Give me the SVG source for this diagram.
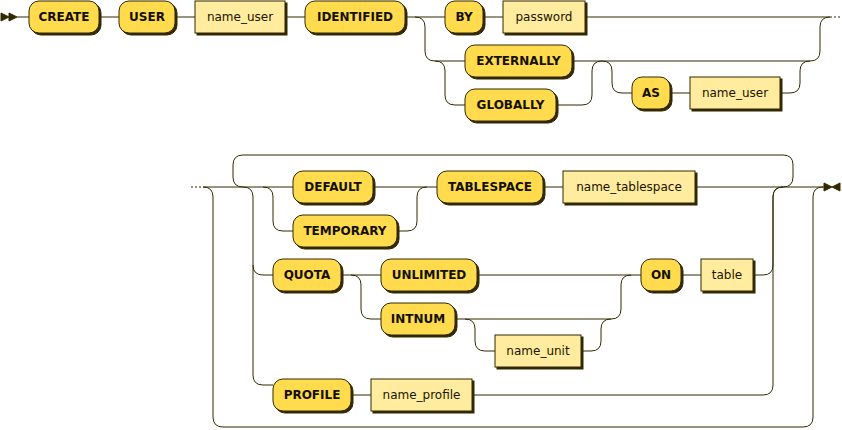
<svg xmlns="http://www.w3.org/2000/svg" width="842" height="430" viewBox="0 0 842 430">
<style>
.line{fill:none;stroke:#332900;stroke-width:1}
.shadow{fill:#332900;stroke:#332900;stroke-width:1}
rect.terminal{fill:#FFDB4D;stroke:#332900;stroke-width:1}
rect.nonterminal{fill:#FFEC9E;stroke:#332900;stroke-width:1}
text{font-family:Verdana,"DejaVu Sans",sans-serif;font-size:12px;text-anchor:middle}
text.terminal{fill:#141000;font-weight:bold}
text.nonterminal{fill:#1A1400;font-weight:normal}
.marker{fill:#332900;stroke:#332900;stroke-width:1}
</style>
<rect width="842" height="430" fill="#FFFFFF"/>
<g id="connectors">
<path class="line" d="M17 17 h12 M99 17 h20 M175 17 h20 M285 17 h20 M405 17 h40 M483 17 h20 M585 17 H830"/>
<path class="line" d="M415 17 q10 0 10 10 v24 q0 10 10 10 h30"/>
<path class="line" d="M435 61 q10 0 10 10 v24 q0 10 10 10 h10"/>
<path class="line" d="M556 105 h26 q10 0 10 -10 v-24 q0 -10 10 -10"/>
<path class="line" d="M572 61 H810 q10 0 10 -10 v-24 q0 -10 10 -10"/>
<path class="line" d="M602 61 q10 0 10 10 v12 q0 10 10 10 h10"/>
<path class="line" d="M670 93 h20"/>
<path class="line" d="M780 93 h10 q10 0 10 -10 v-12 q0 -10 10 -10"/>
<path class="line" d="M830 17 h2 m2 0 h2 m2 0 h2"/>
<path class="line" d="M191 187 h2 m2 0 h2 m2 0 h2"/>
<path class="line" d="M203 187 h90"/>
<path class="line" d="M203 187 q10 0 10 10 v220 q0 10 10 10 H803 q10 0 10 -10 v-220 q0 -10 10 -10"/>
<path class="line" d="M243 187 q-10 0 -10 -10 v-12 q0 -10 10 -10 h540 q10 0 10 10 v12 q0 10 -10 10"/>
<path class="line" d="M263 187 q10 0 10 10 v24 q0 10 10 10 h10"/>
<path class="line" d="M373 187 h64"/>
<path class="line" d="M397 231 h10 q10 0 10 -10 v-24 q0 -10 10 -10"/>
<path class="line" d="M543 187 h20"/>
<path class="line" d="M695 187 H824"/>
<path class="line" d="M243 187 q10 0 10 10 v68 q0 10 10 10 h10"/>
<path class="line" d="M253 265 v110 q0 10 10 10 h10"/>
<path class="line" d="M341 275 h40"/>
<path class="line" d="M351 275 q10 0 10 10 v24 q0 10 10 10 h10"/>
<path class="line" d="M477 275 H641"/>
<path class="line" d="M455 319 H611 q10 0 10 -10 v-24 q0 -10 10 -10"/>
<path class="line" d="M465 319 q10 0 10 10 v12 q0 10 10 10 h10"/>
<path class="line" d="M581 351 h10 q10 0 10 -10 v-12 q0 -10 10 -10"/>
<path class="line" d="M681 275 h20"/>
<path class="line" d="M753 275 h10 q10 0 10 -10 v-68 q0 -10 10 -10"/>
<path class="line" d="M351 395 h20"/>
<path class="line" d="M472 395 H763 q10 0 10 -10 v-188 q0 -10 10 -10"/>
</g>
<g id="start">
<polygon class="marker" points="9 17 1 13 1 21"/>
<polygon class="marker" points="17 17 9 13 9 21"/>
</g>
<g id="end">
<polygon class="marker" points="832 187 824 183 824 191"/>
<polygon class="marker" points="832 187 840 183 840 191"/>
</g>
<g id="n-create"><rect class="shadow" x="31" y="3" width="70" height="32" rx="10"/><rect class="terminal" x="29" y="1" width="70" height="32" rx="10"/><text class="terminal" x="64" y="21">CREATE</text></g>
<g id="n-user"><rect class="shadow" x="121" y="3" width="56" height="32" rx="10"/><rect class="terminal" x="119" y="1" width="56" height="32" rx="10"/><text class="terminal" x="147" y="21">USER</text></g>
<g id="n-name-user"><rect class="shadow" x="197" y="3" width="90" height="32"/><rect class="nonterminal" x="195" y="1" width="90" height="32"/><text class="nonterminal" x="240" y="21">name_user</text></g>
<g id="n-identified"><rect class="shadow" x="307" y="3" width="100" height="32" rx="10"/><rect class="terminal" x="305" y="1" width="100" height="32" rx="10"/><text class="terminal" x="355" y="21">IDENTIFIED</text></g>
<g id="n-by"><rect class="shadow" x="447" y="3" width="38" height="32" rx="10"/><rect class="terminal" x="445" y="1" width="38" height="32" rx="10"/><text class="terminal" x="464" y="21">BY</text></g>
<g id="n-password"><rect class="shadow" x="505" y="3" width="82" height="32"/><rect class="nonterminal" x="503" y="1" width="82" height="32"/><text class="nonterminal" x="544" y="21">password</text></g>
<g id="n-externally"><rect class="shadow" x="467" y="47" width="107" height="32" rx="10"/><rect class="terminal" x="465" y="45" width="107" height="32" rx="10"/><text class="terminal" x="518.5" y="65">EXTERNALLY</text></g>
<g id="n-globally"><rect class="shadow" x="467" y="91" width="91" height="32" rx="10"/><rect class="terminal" x="465" y="89" width="91" height="32" rx="10"/><text class="terminal" x="510.5" y="109">GLOBALLY</text></g>
<g id="n-as"><rect class="shadow" x="634" y="79" width="38" height="32" rx="10"/><rect class="terminal" x="632" y="77" width="38" height="32" rx="10"/><text class="terminal" x="651" y="97">AS</text></g>
<g id="n-name-user-2"><rect class="shadow" x="692" y="79" width="90" height="32"/><rect class="nonterminal" x="690" y="77" width="90" height="32"/><text class="nonterminal" x="735" y="97">name_user</text></g>
<g id="n-default"><rect class="shadow" x="295" y="173" width="80" height="32" rx="10"/><rect class="terminal" x="293" y="171" width="80" height="32" rx="10"/><text class="terminal" x="333" y="191">DEFAULT</text></g>
<g id="n-temporary"><rect class="shadow" x="295" y="217" width="104" height="32" rx="10"/><rect class="terminal" x="293" y="215" width="104" height="32" rx="10"/><text class="terminal" x="345" y="235">TEMPORARY</text></g>
<g id="n-tablespace"><rect class="shadow" x="439" y="173" width="106" height="32" rx="10"/><rect class="terminal" x="437" y="171" width="106" height="32" rx="10"/><text class="terminal" x="490" y="191">TABLESPACE</text></g>
<g id="n-name-tablespace"><rect class="shadow" x="565" y="173" width="132" height="32"/><rect class="nonterminal" x="563" y="171" width="132" height="32"/><text class="nonterminal" x="629" y="191">name_tablespace</text></g>
<g id="n-quota"><rect class="shadow" x="275" y="261" width="68" height="32" rx="10"/><rect class="terminal" x="273" y="259" width="68" height="32" rx="10"/><text class="terminal" x="307" y="279">QUOTA</text></g>
<g id="n-unlimited"><rect class="shadow" x="383" y="261" width="96" height="32" rx="10"/><rect class="terminal" x="381" y="259" width="96" height="32" rx="10"/><text class="terminal" x="429" y="279">UNLIMITED</text></g>
<g id="n-intnum"><rect class="shadow" x="383" y="305" width="74" height="32" rx="10"/><rect class="terminal" x="381" y="303" width="74" height="32" rx="10"/><text class="terminal" x="418" y="323">INTNUM</text></g>
<g id="n-name-unit"><rect class="shadow" x="497" y="337" width="86" height="32"/><rect class="nonterminal" x="495" y="335" width="86" height="32"/><text class="nonterminal" x="538" y="355">name_unit</text></g>
<g id="n-on"><rect class="shadow" x="643" y="261" width="40" height="32" rx="10"/><rect class="terminal" x="641" y="259" width="40" height="32" rx="10"/><text class="terminal" x="661" y="279">ON</text></g>
<g id="n-table"><rect class="shadow" x="703" y="261" width="52" height="32"/><rect class="nonterminal" x="701" y="259" width="52" height="32"/><text class="nonterminal" x="727" y="279">table</text></g>
<g id="n-profile"><rect class="shadow" x="275" y="381" width="78" height="32" rx="10"/><rect class="terminal" x="273" y="379" width="78" height="32" rx="10"/><text class="terminal" x="312" y="399">PROFILE</text></g>
<g id="n-name-profile"><rect class="shadow" x="373" y="381" width="101" height="32"/><rect class="nonterminal" x="371" y="379" width="101" height="32"/><text class="nonterminal" x="421.5" y="399">name_profile</text></g>
</svg>
